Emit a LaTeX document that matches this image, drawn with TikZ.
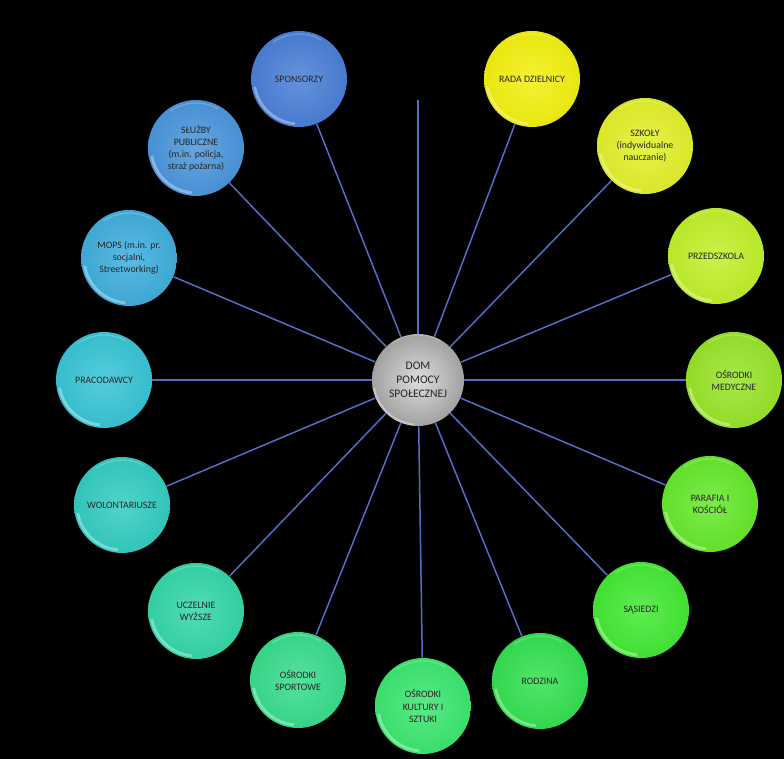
\documentclass[tikz,border=0pt]{standalone}
\usepackage{fontspec}
\setmainfont{Carlito}
\usepackage{tikz}
\usetikzlibrary{calc}

\definecolor{cSrodek}{HTML}{A8A8A8}
\definecolor{cSpons}{HTML}{4A7FD6}
\definecolor{cSluzby}{HTML}{4A96DC}
\definecolor{cMops}{HTML}{40AEDC}
\definecolor{cPrac}{HTML}{38C4D4}
\definecolor{cWolon}{HTML}{34CCC0}
\definecolor{cUczel}{HTML}{34D6A8}
\definecolor{cSport}{HTML}{38DC8C}
\definecolor{cKult}{HTML}{3CE670}
\definecolor{cRodz}{HTML}{34E050}
\definecolor{cSasiad}{HTML}{44E834}
\definecolor{cParaf}{HTML}{66E82C}
\definecolor{cMedyc}{HTML}{98E42A}
\definecolor{cPrzed}{HTML}{C0F02A}
\definecolor{cSzkoly}{HTML}{E2F02A}
\definecolor{cRada}{HTML}{F2F010}
\definecolor{szprycha}{HTML}{5070C8}

\tikzset{
    kolo/.style={circle, minimum size=1.92cm, inner sep=1pt, align=center,
        font=\fontsize{5.6}{6.9}\selectfont, text=black!85,
        shading=radial, inner color=#1!85!white, outer color=#1!96!black,
        path picture={
            \draw[white, opacity=.35, line width=1.6pt]
                ($(path picture bounding box.center)+(190:0.9cm)$)
                arc (190:265:0.9cm);
            \draw[white, opacity=.2, line width=.8pt]
                ($(path picture bounding box.center)+(60:0.9cm)$)
                arc (60:125:0.9cm);
        }},
    srodek/.style={kolo=cSrodek, minimum size=1.84cm,
        font=\fontsize{6.6}{8}\selectfont, inner color=cSrodek!40!white},
    linia/.style={draw=szprycha, line width=0.85pt},
}

\begin{document}
\begin{tikzpicture}[x=0.02cm, y=-0.02cm]
    \useasboundingbox (0,0) rectangle (784,759);
    \fill[black] (0,0) rectangle (784,759);

    \node[srodek] (DPS) at (418,380) {DOM\\POMOCY\\SPOŁECZNEJ};
    \coordinate (T) at (418,100);

    \node[kolo=cSpons]  (Spons)  at (299,79)  {SPONSORZY};
    \node[kolo=cRada]   (Rada)   at (532,79)  {RADA DZIELNICY};
    \node[kolo=cSzkoly] (Szkoly) at (645,146) {SZKOŁY\\(indywidualne\\nauczanie)};
    \node[kolo=cPrzed]  (Przed)  at (716,256) {PRZEDSZKOLA};
    \node[kolo=cMedyc]  (Medyc)  at (734,380) {OŚRODKI\\MEDYCZNE};
    \node[kolo=cParaf]  (Paraf)  at (710,504) {PARAFIA I\\KOŚCIÓŁ};
    \node[kolo=cSasiad] (Sasiad) at (641,610) {SĄSIEDZI};
    \node[kolo=cRodz]   (Rodz)   at (540,681) {RODZINA};
    \node[kolo=cKult]   (Kult)   at (423,706) {OŚRODKI\\KULTURY I\\SZTUKI};
    \node[kolo=cSport]  (Sport)  at (298,680) {OŚRODKI\\SPORTOWE};
    \node[kolo=cUczel]  (Uczel)  at (196,611) {UCZELNIE\\WYŻSZE};
    \node[kolo=cWolon]  (Wolon)  at (122,505) {WOLONTARIUSZE};
    \node[kolo=cPrac]   (Prac)   at (104,380) {PRACODAWCY};
    \node[kolo=cMops]   (Mops)   at (129,258) {MOPS (m.in. pr.\\socjalni,\\Streetworking)};
    \node[kolo=cSluzby] (Sluzby) at (196,148) {SŁUŻBY\\PUBLICZNE\\(m.in. policja,\\straż pożarna)};

    \foreach \k in {T,Spons,Rada,Szkoly,Przed,Medyc,Paraf,Sasiad,Rodz,
                    Kult,Sport,Uczel,Wolon,Prac,Mops,Sluzby}
        \draw[linia] (DPS) -- (\k);
\end{tikzpicture}
\end{document}
